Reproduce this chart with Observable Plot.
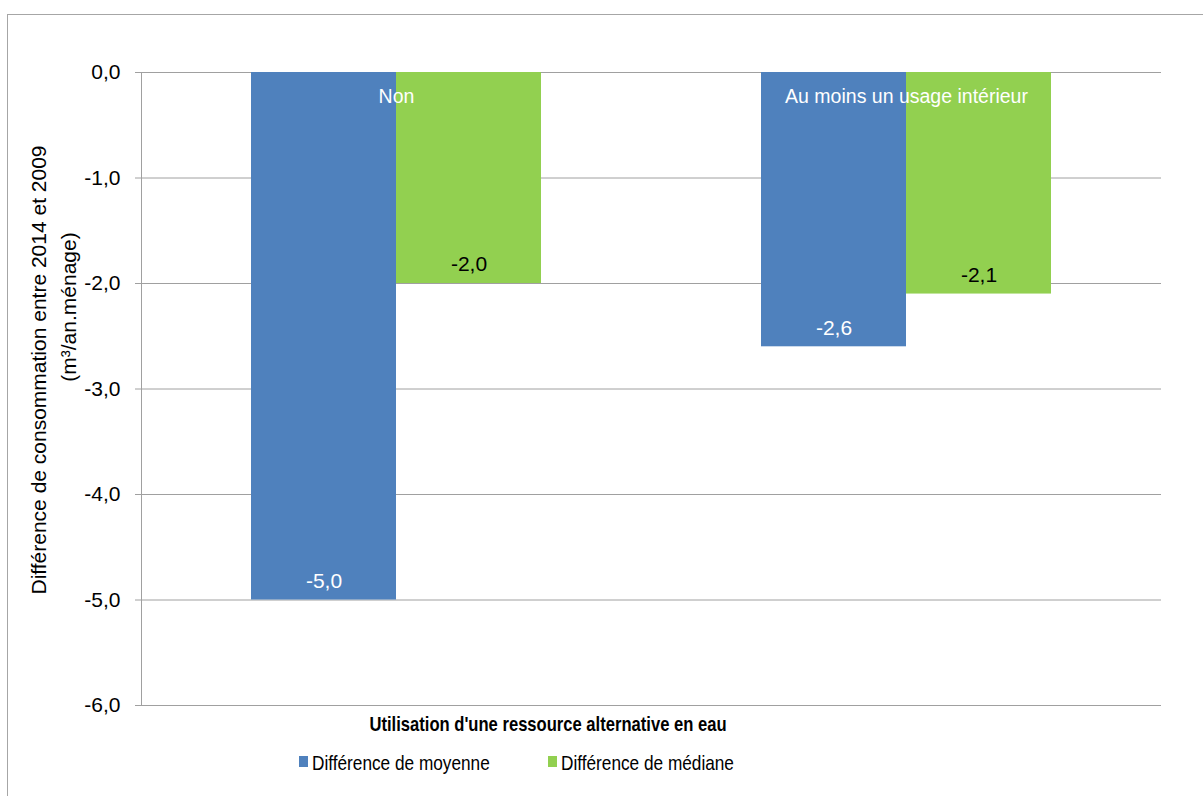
<!DOCTYPE html>
<html>
<head>
<meta charset="utf-8">
<script src="https://cdn.jsdelivr.net/npm/d3@7"></script>
<script src="https://cdn.jsdelivr.net/npm/@observablehq/plot@0.6"></script>
<style>
  body { margin: 0; background: #fff; font-family: "Liberation Sans", Arial, sans-serif; }
  #wrap { position: relative; width: 1203px; height: 796px; overflow: hidden; background: #fff; }
  #chart { position: absolute; left: 0; top: 0; }
  #border { position: absolute; left: 7px; top: 14px; width: 1400px; height: 1000px;
            border-top: 1px solid #a6a6a6; border-left: 1px solid #a6a6a6; pointer-events: none; }
  .ytitle { position: absolute; font-size: 21px; white-space: nowrap; color: #000;
            transform: translate(-50%, -50%) rotate(-90deg); line-height: 1; }
  .xtitle { position: absolute; font-size: 21px; font-weight: bold; white-space: nowrap; color: #000;
            transform: translate(-50%, -50%) scaleX(0.79); line-height: 1; }
  .lg-sw { position: absolute; width: 9px; height: 11px; }
  .lg-tx { position: absolute; font-size: 21px; white-space: nowrap; color: #000; line-height: 1;
           transform-origin: 0 50%; transform: translateY(-50%) scaleX(0.82); }
</style>
</head>
<body>
<div id="wrap">
  <div id="chart"></div>
  <div id="border"></div>
</div>
<script>
// ---- data ----
const categories = ["Non", "Au moins un usage intérieur"];
const series = ["Différence de moyenne", "Différence de médiane"];
const moyenne = [-5.0, -2.6];
const mediane = [-2.0, -2.1];
const yTicks = [0, -1, -2, -3, -4, -5, -6];
const colors = ["#4F81BD", "#92D050"];
const yTitle = ["Différence de consommation entre 2014 et 2009", "(m³/an.ménage)"];
const xTitle = "Utilisation d'une ressource alternative en eau";

const data = categories.flatMap((c, i) => [
  {cat: c, serie: series[0], value: moyenne[i]},
  {cat: c, serie: series[1], value: mediane[i]}
]);
const fmt = d => (Math.abs(d) < 1e-9 ? 0 : d).toFixed(1).replace(".", ",");

const chart = Plot.plot({
  width: 1203,
  height: 740,
  marginTop: 72,
  marginBottom: 35,
  marginLeft: 141,
  marginRight: 42,
  style: {fontFamily: "'Liberation Sans', Arial, sans-serif", background: "transparent", overflow: "visible"},
  fx: {domain: categories, padding: 0, axis: null, label: null},
  x: {domain: series, paddingInner: 0, paddingOuter: 0.747, axis: null},
  y: {domain: [-6, 0], axis: null},
  color: {domain: series, range: colors},
  marks: [
    Plot.gridY(yTicks, {stroke: "#a0a0a0", strokeOpacity: 1}),
    Plot.barY(data, {fx: "cat", x: "serie", y: "value", fill: "serie"}),
    Plot.text(data.filter(d => d.serie === series[0]), {
      fx: "cat", x: "serie", y: "value", text: d => fmt(d.value),
      fill: "white", dy: -19, fontSize: 21
    }),
    Plot.text(data.filter(d => d.serie === series[1]), {
      fx: "cat", x: "serie", y: "value", text: d => fmt(d.value),
      fill: "black", dy: -19, fontSize: 21
    }),
    Plot.text(categories, {
      fx: d => d, text: d => d, frameAnchor: "top", lineAnchor: "middle",
      dy: 24, fill: "white", fontSize: 19.5
    }),
    Plot.frame({anchor: "left", facetAnchor: "left", stroke: "#a0a0a0"}),
    Plot.axisY({
      ticks: yTicks, tickFormat: fmt, tickSize: 6, tickPadding: 15,
      stroke: "#a0a0a0", fill: "black", fontSize: 21, label: null
    })
  ]
});
document.getElementById("chart").appendChild(chart);

// ---- titles and legend ----
const wrap = document.getElementById("wrap");
function addDiv(cls, text, left, top, extra) {
  const el = document.createElement("div");
  el.className = cls;
  if (text != null) el.textContent = text;
  el.style.left = left + "px";
  el.style.top = top + "px";
  if (extra) Object.assign(el.style, extra);
  wrap.appendChild(el);
  return el;
}
addDiv("ytitle", yTitle[0], 38, 370);
addDiv("ytitle", yTitle[1], 68, 307);
addDiv("xtitle", xTitle, 548, 723);
const lgX = [299, 548];
series.forEach((s, i) => {
  addDiv("lg-sw", null, lgX[i], 756, {background: colors[i]});
  addDiv("lg-tx", s, lgX[i] + 13, 762);
});
</script>
</body>
</html>
